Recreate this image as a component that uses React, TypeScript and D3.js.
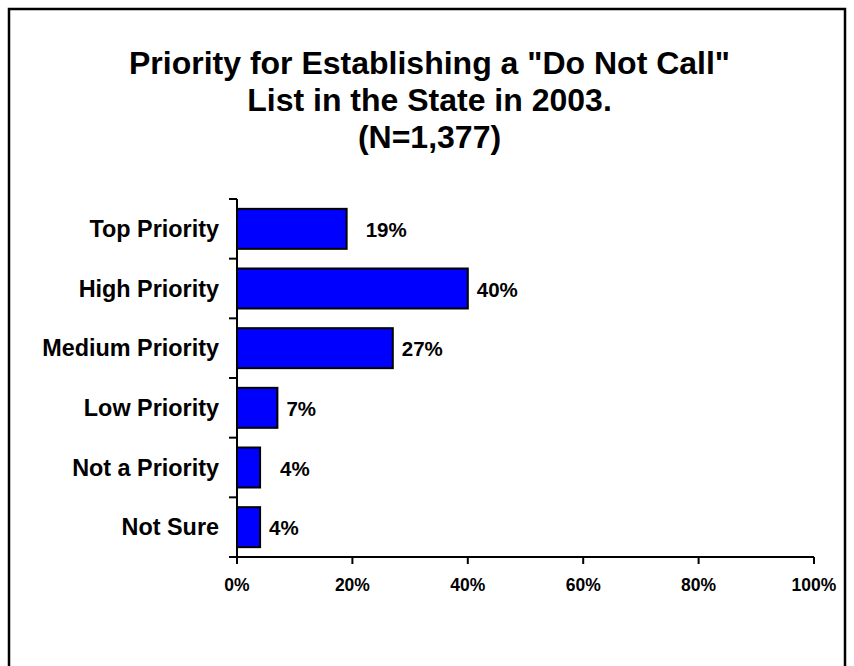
import React from "react";
import * as d3 from "d3";

const categories = ["Top Priority", "High Priority", "Medium Priority", "Low Priority", "Not a Priority", "Not Sure"];
const values = [19, 40, 27, 7, 4, 4];
const valueLabels = ["19%", "40%", "27%", "7%", "4%", "4%"];
const xTicks = [0, 20, 40, 60, 80, 100];
const xTickLabels = ["0%", "20%", "40%", "60%", "80%", "100%"];
const titleLines = ['Priority for Establishing a "Do Not Call"', "List in the State in 2003.", "(N=1,377)"];
// extra horizontal shift for some value labels, as in the original
const labelNudge = [10, 0, 0, 0, 11, 0];

const W = 854;
const H = 666;
const FONT = "'Liberation Sans', Arial, Helvetica, sans-serif";

export default function App() {
  const x = d3.scaleLinear().domain([0, 100]).range([237, 814]);
  const y = d3.scaleBand<string>().domain(categories).range([199, 557]).paddingInner(0.33).paddingOuter(0.165);
  const step = y.step();
  const boundaries = d3.range(categories.length + 1).map((i) => 199 + i * step);

  return (
    <svg width={W} height={H} style={{ position: "absolute", left: 0, top: 0, background: "#fff" }}>
      <rect x={0} y={0} width={W} height={H} fill="#fff" />
      <rect x={9} y={9} width={836} height={720} fill="none" stroke="#000" strokeWidth={2.5} />
      <g fontFamily={FONT} fontWeight="bold" fill="#000">
        {titleLines.map((t, i) => (
          <text key={i} x={429.5} y={73.5 + i * 37} textAnchor="middle" fontSize={32}>
            {t}
          </text>
        ))}
      </g>
      {/* bars */}
      {categories.map((c, i) => (
        <rect
          key={c}
          x={x(0)}
          y={y(c)!}
          width={x(values[i]) - x(0)}
          height={y.bandwidth()}
          fill="#0000FF"
          stroke="#000"
          strokeWidth={2}
        />
      ))}
      {/* y axis */}
      <line x1={x(0)} x2={x(0)} y1={boundaries[0]} y2={boundaries[boundaries.length - 1]} stroke="#000" strokeWidth={2} />
      {boundaries.map((b, i) => (
        <line key={i} x1={x(0) - 8} x2={x(0)} y1={b} y2={b} stroke="#000" strokeWidth={2} />
      ))}
      {/* x axis */}
      <line x1={x(0)} x2={x(100)} y1={557} y2={557} stroke="#000" strokeWidth={2} />
      {xTicks.map((t) => (
        <line key={t} x1={x(t)} x2={x(t)} y1={557} y2={564} stroke="#000" strokeWidth={2} />
      ))}
      <g fontFamily={FONT} fontWeight="bold" fill="#000">
        {xTicks.map((t, i) => (
          <text key={t} x={x(t)} y={591} textAnchor="middle" fontSize={17.5}>
            {xTickLabels[i]}
          </text>
        ))}
        {categories.map((c) => (
          <text key={c} x={219} y={y(c)! + y.bandwidth() / 2 + 8} textAnchor="end" fontSize={23.4}>
            {c}
          </text>
        ))}
        {categories.map((c, i) => (
          <text key={c} x={x(values[i]) + 9 + labelNudge[i]} y={y(c)! + y.bandwidth() / 2 + 8} fontSize={20.5}>
            {valueLabels[i]}
          </text>
        ))}
      </g>
    </svg>
  );
}
